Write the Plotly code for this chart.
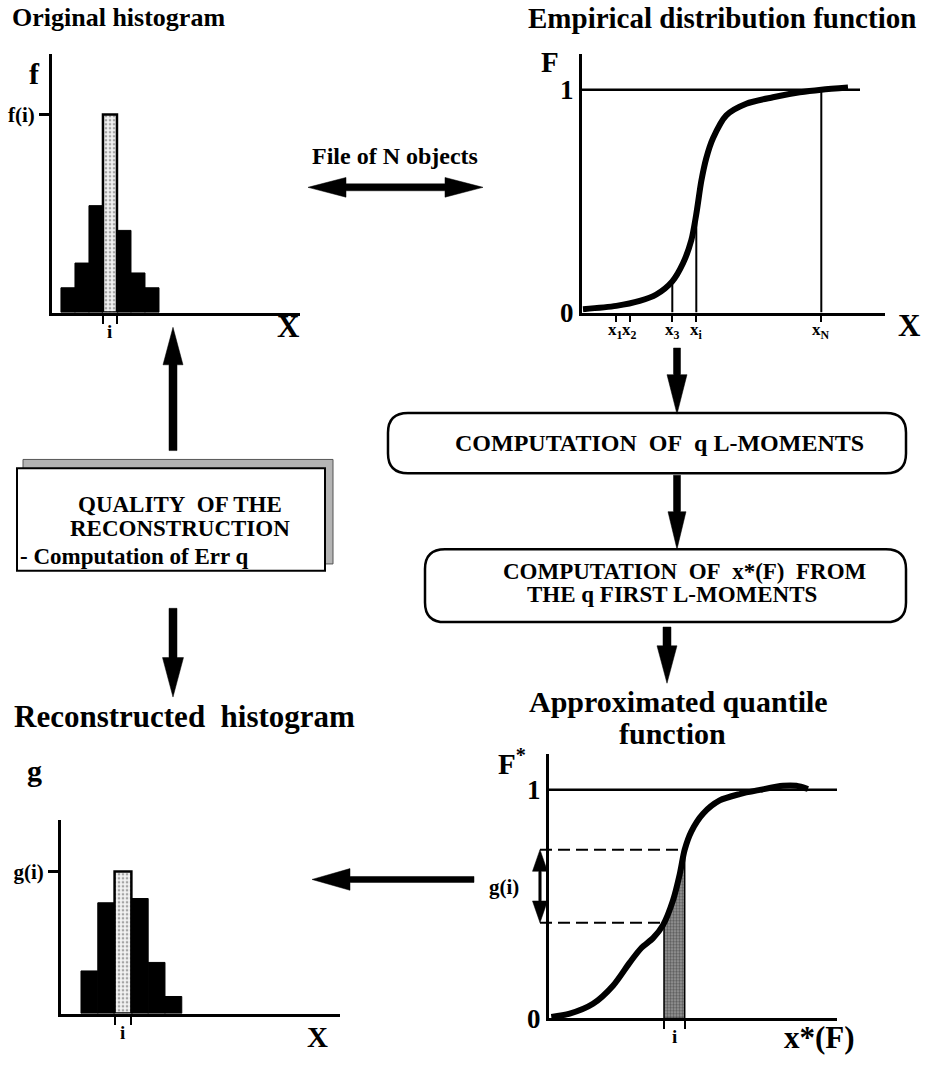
import numpy as np
import plotly.graph_objects as go

W, H = 927, 1066
FONT = "Liberation Serif"

# ------------------------------------------------------------------ data
# Original histogram (class index, relative frequency)
orig_class = [0, 1, 2, 3, 4, 5, 6]
orig_freq = [0.125, 0.25, 0.54, 1.0, 0.415, 0.2, 0.125]
orig_i = 3

# Empirical distribution function
ecdf_x = [1, 34.3, 57.7, 74.3, 90.3, 101, 109.3, 114.3, 119.3, 124.3, 131,
          144.3, 164.3, 191, 217.7, 239.3, 266]
ecdf_F = [0.015, 0.03, 0.052, 0.081, 0.14, 0.221, 0.324, 0.442, 0.59, 0.693,
          0.782, 0.885, 0.937, 0.966, 0.988, 1.0, 1.01]
ecdf_tick_x = [33.7, 47.7, 90.3, 114.3, 239.3]
ecdf_tick_text = ["x<sub>1</sub>", "x<sub>2</sub>", "x<sub>3</sub>",
                  "x<sub>i</sub>", "x<sub>N</sub>"]
ecdf_drop_x = [90.3, 114.3, 239.3]
ecdf_one_end = 278

# Reconstructed histogram
rec_class = [0, 1, 2, 3, 4, 5]
rec_freq = [0.3, 0.78, 1.0, 0.81, 0.36, 0.12]
rec_i = 2

# Approximated quantile function
q_x = [2.3, 20.7, 44, 64, 80.7, 92.3, 104, 114, 124, 130.7, 135.7, 142.3,
       154, 170.7, 190.7, 210.7, 234, 247.3, 259]
q_F = [0.007, 0.021, 0.064, 0.143, 0.244, 0.308, 0.351, 0.408, 0.516, 0.63,
       0.738, 0.817, 0.895, 0.953, 0.981, 0.999, 1.017, 1.017, 1.003]
q_i_lo, q_i_hi = 115, 135.7
q_one_end = 288

# ------------------------------------------------------------------ layout geometry (pixels)
panels = {
    1: dict(xd=(52, 300), yd=(55, 317), xr=(-0.64, 17.07), yr=(0, 1.305)),
    2: dict(xd=(582, 885), yd=(55, 317), xr=(0, 303), yr=(0, 1.159)),
    3: dict(xd=(61, 340), yd=(832, 1028), xr=(-1.19, 15.42), yr=(0, 1.361)),
    4: dict(xd=(549, 837), yd=(765, 1033), xr=(0, 288), yr=(0, 1.155)),
}


def PX(x):
    return x / W


def PY(y):
    return 1 - y / H


def data_to_px(k, x, y):
    p = panels[k]
    xp = p["xd"][0] + (x - p["xr"][0]) / (p["xr"][1] - p["xr"][0]) * (p["xd"][1] - p["xd"][0])
    yp = p["yd"][1] - (y - p["yr"][0]) / (p["yr"][1] - p["yr"][0]) * (p["yd"][1] - p["yd"][0])
    return xp, yp


def path_from(pts, close=True):
    s = "M " + " L ".join(f"{PX(x):.5f},{PY(y):.5f}" for x, y in pts)
    return s + (" Z" if close else "")


def arrow_shape(x0, y0, x1, y1, shaft, hw, hl, double=False):
    dx, dy = x1 - x0, y1 - y0
    L = np.hypot(dx, dy)
    ux, uy = dx / L, dy / L
    nx, ny = -uy, ux
    bx, by = x1 - ux * hl, y1 - uy * hl
    if double:
        ax_, ay_ = x0 + ux * hl, y0 + uy * hl
        pts = [(x0, y0),
               (ax_ + nx * hw / 2, ay_ + ny * hw / 2),
               (ax_ + nx * shaft / 2, ay_ + ny * shaft / 2),
               (bx + nx * shaft / 2, by + ny * shaft / 2),
               (bx + nx * hw / 2, by + ny * hw / 2),
               (x1, y1),
               (bx - nx * hw / 2, by - ny * hw / 2),
               (bx - nx * shaft / 2, by - ny * shaft / 2),
               (ax_ - nx * shaft / 2, ay_ - ny * shaft / 2),
               (ax_ - nx * hw / 2, ay_ - ny * hw / 2)]
    else:
        pts = [(x0 + nx * shaft / 2, y0 + ny * shaft / 2),
               (bx + nx * shaft / 2, by + ny * shaft / 2),
               (bx + nx * hw / 2, by + ny * hw / 2),
               (x1, y1),
               (bx - nx * hw / 2, by - ny * hw / 2),
               (bx - nx * shaft / 2, by - ny * shaft / 2),
               (x0 - nx * shaft / 2, y0 - ny * shaft / 2)]
    return dict(type="path", path=path_from(pts), xref="paper", yref="paper",
                fillcolor="black", line=dict(color="black", width=0.5), layer="above")


def rrect_shape(x0, y0, x1, y1, r, width=2.5):
    def p(x, y):
        return f"{PX(x):.5f},{PY(y):.5f}"
    path = (f"M {p(x0 + r, y0)} L {p(x1 - r, y0)} Q {p(x1, y0)} {p(x1, y0 + r)} "
            f"L {p(x1, y1 - r)} Q {p(x1, y1)} {p(x1 - r, y1)} "
            f"L {p(x0 + r, y1)} Q {p(x0, y1)} {p(x0, y1 - r)} "
            f"L {p(x0, y0 + r)} Q {p(x0, y0)} {p(x0 + r, y0)} Z")
    return dict(type="path", path=path, xref="paper", yref="paper",
                fillcolor="white", line=dict(color="black", width=width))


def font(size):
    return dict(family=FONT, size=size, color="black", weight="bold")


def text(x, y, s, size, xanchor="center", yanchor="middle"):
    return dict(x=PX(x), y=PY(y), xref="paper", yref="paper", text=s, showarrow=False,
                font=font(size), xanchor=xanchor, yanchor=yanchor)


fig = go.Figure()

stipple_light = dict(shape=".", fgcolor="#555", bgcolor="#f2f2f2", size=4, solidity=0.35)

# ------------------------------------------------------------------ panel 1: original histogram
other = [k for k in orig_class if k != orig_i]
fig.add_trace(go.Bar(x=[k + 0.5 for k in other], y=[orig_freq[k] for k in other], width=1,
                     marker=dict(color="black", line=dict(color="black", width=1)),
                     xaxis="x", yaxis="y"))
fig.add_trace(go.Bar(x=[orig_i + 0.5], y=[orig_freq[orig_i]], width=1,
                     marker=dict(color="white", line=dict(color="black", width=2.5),
                                 pattern=stipple_light),
                     xaxis="x", yaxis="y"))

# ------------------------------------------------------------------ panel 2: ECDF
fig.add_trace(go.Scatter(x=[0, ecdf_one_end], y=[1, 1], mode="lines",
                         line=dict(color="black", width=2.5), xaxis="x2", yaxis="y2"))
for xv in ecdf_drop_x:
    top = min(1.0, float(np.interp(xv, ecdf_x, ecdf_F)))
    fig.add_trace(go.Scatter(x=[xv, xv], y=[0, top], mode="lines",
                             line=dict(color="black", width=2), xaxis="x2", yaxis="y2"))
fig.add_trace(go.Scatter(x=ecdf_x, y=ecdf_F, mode="lines",
                         line=dict(color="black", width=6, shape="spline", smoothing=0.8),
                         xaxis="x2", yaxis="y2"))

# ------------------------------------------------------------------ panel 3: reconstructed histogram
other3 = [k for k in rec_class if k != rec_i]
fig.add_trace(go.Bar(x=[k + 0.5 for k in other3], y=[rec_freq[k] for k in other3], width=1,
                     marker=dict(color="black", line=dict(color="black", width=1)),
                     xaxis="x3", yaxis="y3"))
fig.add_trace(go.Bar(x=[rec_i + 0.5], y=[rec_freq[rec_i]], width=1,
                     marker=dict(color="white", line=dict(color="black", width=2.5),
                                 pattern=stipple_light),
                     xaxis="x3", yaxis="y3"))

# ------------------------------------------------------------------ panel 4: quantile function
F_lo = float(np.interp(q_i_lo, q_x, q_F))
F_hi = float(np.interp(q_i_hi, q_x, q_F))
inner = [(x, f) for x, f in zip(q_x, q_F) if q_i_lo < x < q_i_hi]
sx = [q_i_lo, q_i_lo] + [p[0] for p in inner] + [q_i_hi, q_i_hi, q_i_lo]
sy = [0, F_lo] + [p[1] for p in inner] + [F_hi, 0, 0]
fig.add_trace(go.Scatter(x=sx, y=sy, mode="lines", fill="toself",
                         fillcolor="#777",
                         fillpattern=dict(shape=".", fgcolor="#222", bgcolor="#999",
                                          size=3, solidity=0.5),
                         line=dict(color="black", width=1.5), xaxis="x4", yaxis="y4"))
fig.add_trace(go.Scatter(x=[0, q_one_end], y=[1, 1], mode="lines",
                         line=dict(color="black", width=2.5), xaxis="x4", yaxis="y4"))
fig.add_trace(go.Scatter(x=q_x, y=q_F, mode="lines",
                         line=dict(color="black", width=6, shape="spline", smoothing=0.8),
                         xaxis="x4", yaxis="y4"))

# ------------------------------------------------------------------ axes
axis_base = dict(showline=True, linecolor="black", linewidth=3, showgrid=False,
                 zeroline=False, fixedrange=True, tickcolor="black")


def xdom(k):
    return [PX(panels[k]["xd"][0]), PX(panels[k]["xd"][1])]


def ydom(k):
    return [PY(panels[k]["yd"][1]), PY(panels[k]["yd"][0])]


layout = dict(
    width=W, height=H, margin=dict(l=0, r=0, t=0, b=0),
    paper_bgcolor="white", plot_bgcolor="white", showlegend=False,
    barmode="overlay", bargap=0,
)
# panel 1
layout["xaxis"] = dict(axis_base, domain=xdom(1), range=panels[1]["xr"], anchor="y",
                       tickvals=[orig_i, orig_i + 1], showticklabels=False, ticks="outside",
                       ticklen=8, tickwidth=2)
layout["yaxis"] = dict(axis_base, domain=ydom(1), range=panels[1]["yr"], anchor="x",
                       tickvals=[orig_freq[orig_i]], ticktext=["f(i)"], ticks="outside",
                       ticklen=10, tickwidth=3, tickfont=font(21))
# panel 2
layout["xaxis2"] = dict(axis_base, domain=xdom(2), range=panels[2]["xr"], anchor="y2",
                        tickvals=ecdf_tick_x, showticklabels=False, ticks="outside",
                        ticklen=6, tickwidth=2)
layout["yaxis2"] = dict(axis_base, domain=ydom(2), range=panels[2]["yr"], anchor="x2",
                        tickvals=[0, 1], ticktext=["0", "1"], ticks="", tickfont=font(27))
# panel 3
layout["xaxis3"] = dict(axis_base, domain=xdom(3), range=panels[3]["xr"], anchor="y3",
                        tickvals=[rec_i, rec_i + 1], showticklabels=False, ticks="outside",
                        ticklen=8, tickwidth=2)
layout["yaxis3"] = dict(axis_base, domain=ydom(3), range=panels[3]["yr"], anchor="x3",
                        tickvals=[rec_freq[rec_i]], ticktext=["g(i)"], ticks="outside",
                        ticklen=10, tickwidth=3, tickfont=font(21))
# panel 4
layout["xaxis4"] = dict(axis_base, domain=xdom(4), range=panels[4]["xr"], anchor="y4",
                        tickvals=[q_i_lo, q_i_hi], showticklabels=False, ticks="outside",
                        ticklen=8, tickwidth=2)
layout["yaxis4"] = dict(axis_base, domain=ydom(4), range=panels[4]["yr"], anchor="x4",
                        tickvals=[0, 1], ticktext=["0", "1"], ticks="", tickfont=font(27))
fig.update_layout(**layout)

# ------------------------------------------------------------------ shapes
shapes = []
# QUALITY box with stippled shadow
shapes.append(dict(type="rect", xref="paper", yref="paper",
                   x0=PX(23), x1=PX(333), y0=PY(572), y1=PY(466),
                   fillcolor="#b4b4b4", line=dict(color="#555", width=1)))
shapes.append(dict(type="rect", xref="paper", yref="paper",
                   x0=PX(17), x1=PX(325), y0=PY(579), y1=PY(475),
                   fillcolor="white", line=dict(color="black", width=2)))
# rounded computation boxes
shapes.append(rrect_shape(388, 419, 906, 480, 20))
shapes.append(rrect_shape(425, 557, 906, 631, 20))

# big arrows
shapes.append(arrow_shape(308, 190, 483, 190, 7, 20, 38, double=True))   # File of N objects
shapes.append(arrow_shape(173, 457, 173, 332, 8, 20, 38))                # up to histogram
shapes.append(arrow_shape(173, 617, 173, 707, 8, 21, 40))                # down to reconstructed
shapes.append(arrow_shape(677, 353, 677, 420, 7, 20, 40))                # ECDF -> box 1
shapes.append(arrow_shape(677, 482, 677, 557, 7, 18, 38))                # box 1 -> box 2
shapes.append(arrow_shape(667, 636, 667, 693, 8, 20, 38))                # box 2 -> quantile
shapes.append(arrow_shape(474, 892, 312, 892, 6, 22, 38))                # quantile -> recon

# dashed projections and g(i) double arrow in panel 4
x_lo_px, y_lo_px = data_to_px(4, q_i_lo, F_lo)
x_hi_px, y_hi_px = data_to_px(4, q_i_hi, F_hi)
arrow_x = 540
shapes.append(dict(type="line", xref="paper", yref="paper",
                   x0=PX(arrow_x), x1=PX(x_hi_px), y0=PY(y_hi_px), y1=PY(y_hi_px),
                   line=dict(color="black", width=2, dash="12px,6px")))
shapes.append(dict(type="line", xref="paper", yref="paper",
                   x0=PX(arrow_x), x1=PX(x_lo_px), y0=PY(y_lo_px), y1=PY(y_lo_px),
                   line=dict(color="black", width=2, dash="12px,6px")))
shapes.append(arrow_shape(arrow_x, y_hi_px, arrow_x, y_lo_px, 2.5, 15, 22, double=True))

fig.update_layout(shapes=shapes)

# ------------------------------------------------------------------ text
ann = []
ann.append(text(118, 18, "Original histogram", 26))
ann.append(text(722, 18, "Empirical distribution function", 29))
ann.append(text(395, 158, "File of N objects", 24))
ann.append(text(184, 727, "Reconstructed\u00a0 histogram", 31))
ann.append(text(678, 712, "Approximated quantile", 30))
ann.append(text(672, 744, "function", 30))

ann.append(text(180, 512, "QUALITY\u00a0 OF THE", 23))
ann.append(text(180, 536, "RECONSTRUCTION", 23))
ann.append(text(18, 564, "- Computation of Err q", 23, xanchor="left"))
ann.append(text(659, 449, "COMPUTATION\u00a0 OF\u00a0 q L-MOMENTS", 24))
ann.append(text(685, 580, "COMPUTATION\u00a0 OF\u00a0 x*(F)\u00a0 FROM", 23))
ann.append(text(672, 603, "THE q FIRST L-MOMENTS", 23))

# axis names
ann.append(text(34, 75, "f", 30))
ann.append(text(288, 331, "X", 31))
ann.append(text(550, 63, "F", 29))
ann.append(text(909, 330, "X", 31))
ann.append(text(34, 782, "g", 30))
ann.append(text(317, 1052, "X", 29))
ann.append(text(512, 773, "F<sup>*</sup>", 29))
ann.append(text(819, 1052, "x*(F)", 31))
ann.append(text(504, 900, "g(i)", 21))

# ECDF tick labels
for xv, lab in zip(ecdf_tick_x, ecdf_tick_text):
    ann.append(dict(x=xv, y=0, xref="x2", yref="y2", text=lab, showarrow=False,
                    font=font(17), yanchor="top", yshift=-5))

# class labels "i"
for xa, ya, xc in [("x", "y", orig_i + 0.5), ("x3", "y3", rec_i + 0.5),
                   ("x4", "y4", (q_i_lo + q_i_hi) / 2)]:
    ann.append(dict(x=xc, y=0, xref=xa, yref=ya, text="i", showarrow=False,
                    font=font(19), yanchor="top", yshift=-6))

fig.update_layout(annotations=ann)

fig.write_html("out.html",
               config={"displayModeBar": False, "staticPlot": True},
               post_script="document.body.style.margin='0px';"
                           "document.body.style.overflow='hidden';")
